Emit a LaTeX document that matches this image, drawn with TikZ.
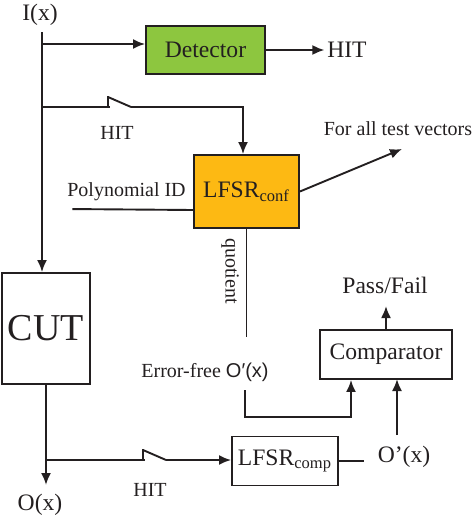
\documentclass[tikz,border=0pt]{standalone}
\usepackage{fontspec}
\setmainfont{Liberation Serif}
\newfontfamily\sansfont{Liberation Sans}
\usepackage{tikz}
\usetikzlibrary{arrows.meta,positioning,calc}
\tikzset{>={Latex[length=6pt,width=5pt]}}
\definecolor{detgreen}{RGB}{141,198,63}
\definecolor{confamber}{RGB}{253,185,19}
\definecolor{ink}{RGB}{35,31,32}

\begin{document}
\begin{tikzpicture}[x=0.5pt, y=-0.5pt, line width=0.95pt, draw=ink, text=ink,
    blk/.style={draw=ink, line width=0.95pt, inner sep=0pt, font=\rmfamily\fontsize{11.8}{14}\selectfont},
    lbl/.style={inner sep=1pt, font=\rmfamily\fontsize{11.8}{14}\selectfont},
    sml/.style={inner sep=1pt, font=\rmfamily\fontsize{10}{12}\selectfont}]
    \useasboundingbox (0,0) rectangle (474,520);

    % blocks
    \node[blk, fill=detgreen, minimum width=59.5pt, minimum height=24pt] (det) at (205.5,50) {Detector};
    \node[blk, fill=confamber, minimum width=52.5pt, minimum height=36.5pt] (cf) at (246.5,191.5) {LFSR\textsubscript{conf}};
    \node[blk, minimum width=44pt, minimum height=55.5pt, font=\rmfamily\fontsize{19}{22}\selectfont] (cut) at (46,328.5) {CUT};
    \node[blk, minimum width=66pt, minimum height=24.5pt] (cmp) at (386,354.5) {Comparator};
    \node[blk, minimum width=53pt, minimum height=24.5pt] (lc) at (285,461) {LFSR\textsubscript{comp}};

    % labels
    \node[lbl] (ix) at (40,15) {I(x)};
    \node[lbl] (hit-out) at (347,50) {HIT};
    \node[sml] (hit-1) at (117,133) {HIT};
    \node[sml] (hit-2) at (150,490) {HIT};
    \node[sml] (poly) at (126.5,192) {Polynomial ID};
    \node[sml] (fatv) at (398,129) {For all test vectors};
    \node[sml, rotate=-90] (quot) at (230,271) {quotient};
    \node[sml] (ef) at (205,372) {Error-free {\sansfont O′(x)}};
    \node[lbl] (pf) at (385,285) {Pass/Fail};
    \node[lbl] (ocmp) at (404,457) {O’(x)};
    \node[lbl] (ox) at (40,505) {O(x)};

    \coordinate (top) at (42,32);
    \coordinate (sp-det) at (42,44);
    \coordinate (sp-sw) at (42,107);
    \coordinate (bend) at (243,107);
    \coordinate (sp-out) at (46,460);
    \coordinate (out-end) at (46,485);

    % switches
    \foreach[count=\i] \sx/\sy in {90/107,125/460} {
        \coordinate (sw-\i-a) at (\sx,\sy);
        \coordinate (sw-\i-b) at (\sx+55,\sy);
        \draw (sw-\i-a) -- ++(20,0);
        \draw (\sx+18,\sy) -- ++(0,-11);
        \draw (\sx+18,\sy-10) -- (\sx+41,\sy);
        \draw (\sx+41,\sy) -- (sw-\i-b);
    }

    % input side
    \draw[->] (top) -- (top |- cut.north);
    \draw[->] (sp-det) -- (sp-det -| det.west);
    \draw[->] (det.east) -- (hit-out.west);
    \draw (sp-sw) -- (sw-1-a);
    \draw[->] (sw-1-b) -- (bend) -- (bend |- cf.north);
    \draw (poly.south west) ++(8,5) -- ($(cf.west)+(0,-9.25pt)$);
    \draw[->] (cf.east) -- ($(fatv.south)+(4,10)$);
    \draw (cf.south) -- ++(0,108);

    % output side
    \draw[->] (cut.south) -- (out-end);
    \draw (sp-out) -- (sw-2-a);
    \draw[->] (sw-2-b) -- (sw-2-b -| lc.west);
    \draw (lc.east) -- ++(25,0);
    \draw[->] (245,390) -- ++(0,27) -| ([xshift=-17.5pt]cmp.south);
    \draw[->] (397,435) -- (397,379);
    \draw[->] (cmp.north) -- ++(0,-23);
\end{tikzpicture}
\end{document}
